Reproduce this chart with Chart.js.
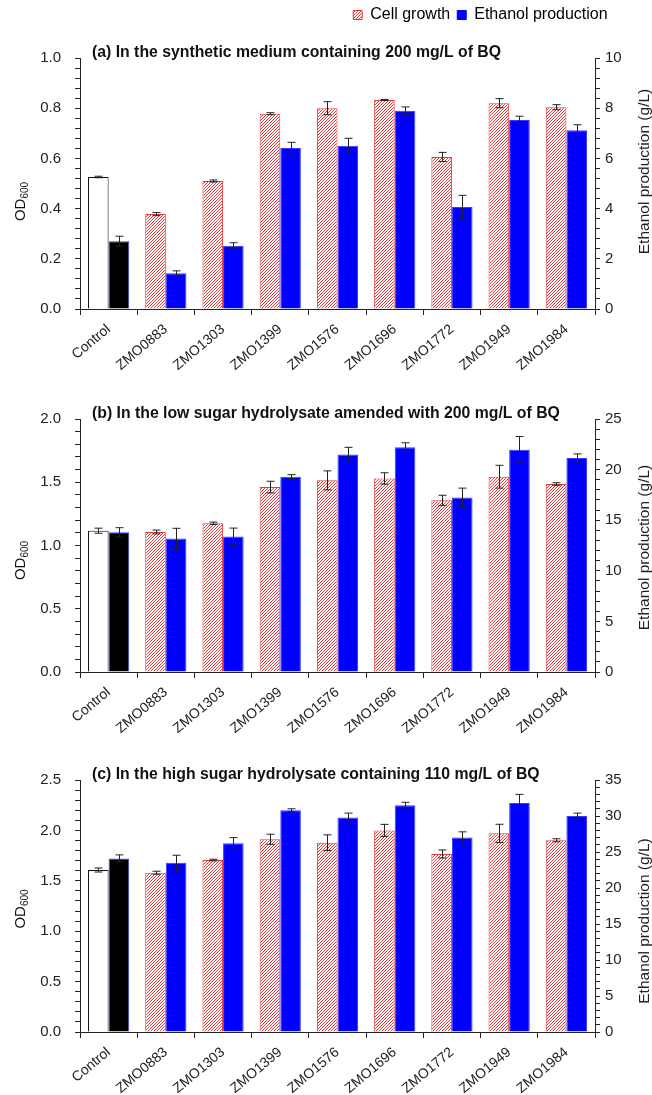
<!DOCTYPE html>
<html>
<head>
<meta charset="utf-8">
<script src="https://cdn.jsdelivr.net/npm/chart.js@4.4.0/dist/chart.umd.min.js"></script>
<style>
  body { margin: 0; background: #fff; }
  #wrap { position: relative; width: 652px; height: 1095px; }
  .panel { position: absolute; left: 0; width: 652px; }
</style>
</head>
<body>
<div id="wrap">
  <div class="panel" style="top:0;height:380px"><canvas id="chartA"></canvas></div>
  <div class="panel" style="top:360px;height:380px"><canvas id="chartB"></canvas></div>
  <div class="panel" style="top:720px;height:375px"><canvas id="chartC"></canvas></div>
</div>
<script>
const categories = ['Control', 'ZMO0883', 'ZMO1303', 'ZMO1399', 'ZMO1576', 'ZMO1696', 'ZMO1772', 'ZMO1949', 'ZMO1984']

// (a) synthetic medium, 200 mg/L BQ
const growthA = [0.526, 0.378, 0.510, 0.778, 0.800, 0.833, 0.606, 0.820, 0.804]
const growthErrA = [0.003, 0.006, 0.004, 0.004, 0.026, 0.002, 0.018, 0.018, 0.010]
const ethanolA = [2.70, 1.42, 2.52, 6.41, 6.50, 7.90, 4.06, 7.53, 7.12]
const ethanolErrA = [0.20, 0.10, 0.12, 0.23, 0.30, 0.15, 0.47, 0.15, 0.22]

// (b) low sugar hydrolysate, 200 mg/L BQ
const growthB = [1.117, 1.107, 1.175, 1.462, 1.515, 1.530, 1.357, 1.544, 1.486]
const growthErrB = [0.02, 0.015, 0.01, 0.046, 0.075, 0.045, 0.04, 0.09, 0.01]
const ethanolB = [13.8, 13.2, 13.4, 19.3, 21.5, 22.2, 17.25, 21.97, 21.15]
const ethanolErrB = [0.46, 1.0, 0.82, 0.2, 0.7, 0.45, 0.92, 1.3, 0.4]

// (c) high sugar hydrolysate, 110 mg/L BQ
const growthC = [1.607, 1.580, 1.706, 1.912, 1.878, 2.000, 1.766, 1.971, 1.902]
const growthErrC = [0.02, 0.015, 0.008, 0.05, 0.078, 0.06, 0.04, 0.09, 0.015]
const ethanolC = [24.1, 23.5, 26.2, 30.8, 29.8, 31.5, 27.0, 31.8, 30.0]
const ethanolErrC = [0.5, 1.05, 0.8, 0.2, 0.6, 0.4, 0.8, 1.2, 0.4]

const FONT = '"Liberation Sans", Arial, sans-serif'
Chart.defaults.font.family = FONT
Chart.defaults.color = '#222'

const RED = '#e8393a'
const BLUE = '#0000ff'

// red diagonal hatch on white (crisp pixels, no antialiasing)
function makeHatch(color) {
  const n = 3
  const c = document.createElement('canvas')
  c.width = n
  c.height = n
  const g = c.getContext('2d')
  g.fillStyle = '#fff'
  g.fillRect(0, 0, n, n)
  g.fillStyle = color
  for (let i = 0; i < n; i++) g.fillRect(i, n - 1 - i, 1, 1)
  return g.createPattern(c, 'repeat')
}
const hatch = makeHatch(RED)

// error bars, drawn from each dataset's "errors"
const errorBarPlugin = {
  id: 'errorBars',
  afterDatasetsDraw(chart) {
    const ctx = chart.ctx
    ctx.save()
    ctx.strokeStyle = '#222'
    ctx.lineWidth = 1
    chart.data.datasets.forEach((ds, i) => {
      const meta = chart.getDatasetMeta(i)
      const scale = chart.scales[meta.yAxisID]
      meta.data.forEach((bar, j) => {
        const v = ds.data[j]
        const e = ds.errors[j]
        const top = scale.getPixelForValue(v + e)
        const bot = scale.getPixelForValue(v - e)
        const x = Math.round(bar.x) + 0.5
        ctx.beginPath()
        ctx.moveTo(x, top); ctx.lineTo(x, bot)
        ctx.moveTo(x - 4, top); ctx.lineTo(x + 4, top)
        ctx.moveTo(x - 4, bot); ctx.lineTo(x + 4, bot)
        ctx.stroke()
      })
    })
    ctx.restore()
  },
}

// panel title + axis titles (OD with subscript 600)
const panelTextPlugin = {
  id: 'panelText',
  afterDraw(chart, args, opts) {
    const { ctx, chartArea } = chart
    const mid = (chartArea.top + chartArea.bottom) / 2
    ctx.save()
    ctx.fillStyle = '#111'
    ctx.textBaseline = 'alphabetic'
    ctx.font = 'bold 15.8px ' + FONT
    ctx.fillText(opts.title, chartArea.left + 12, chartArea.top - 1)

    ctx.save()
    ctx.translate(25, mid + opts.leftShift)
    ctx.rotate(-Math.PI / 2)
    ctx.font = '15px ' + FONT
    const w1 = ctx.measureText('OD').width
    ctx.font = '10px ' + FONT
    const w2 = ctx.measureText('600').width
    const x0 = -(w1 + w2) / 2
    ctx.font = '15px ' + FONT
    ctx.fillText('OD', x0, 0)
    ctx.font = '10px ' + FONT
    ctx.fillText('600', x0 + w1, 3)
    ctx.restore()

    ctx.save()
    ctx.translate(649, mid + opts.rightShift)
    ctx.rotate(-Math.PI / 2)
    ctx.textAlign = 'center'
    ctx.font = '15.5px ' + FONT
    ctx.fillStyle = '#222'
    ctx.fillText('Ethanol production (g/L)', 0, 0)
    ctx.restore()
    ctx.restore()
  },
}

function yAxis(position, max, minor, major, decimals, pad, width) {
  return {
    position,
    min: 0,
    max,
    grid: { drawOnChartArea: false, tickLength: 5, color: '#222' },
    border: { color: '#222' },
    ticks: {
      stepSize: minor,
      autoSkip: false,
      padding: pad,
      color: '#222',
      font: { size: 15 },
      callback: (v) =>
        Math.abs(v / major - Math.round(v / major)) < 1e-6 ? v.toFixed(decimals) : '',
    },
    afterFit: (scale) => { scale.width = width },
  }
}

function createPanel(id, p) {
  const ctx = document.getElementById(id).getContext('2d')
  return new Chart(ctx, {
    type: 'bar',
    data: {
      labels: categories,
      datasets: [
        {
          label: 'Cell growth',
          data: p.growth,
          errors: p.growthErr,
          yAxisID: 'y',
          backgroundColor: categories.map((c, i) => (i === 0 ? '#ffffff' : hatch)),
          borderColor: categories.map((c, i) => (i === 0 ? '#111' : RED)),
          borderWidth: 1,
          categoryPercentage: 0.72,
          barPercentage: 1.0,
        },
        {
          label: 'Ethanol production',
          data: p.ethanol,
          errors: p.ethanolErr,
          yAxisID: 'y1',
          backgroundColor: categories.map((c, i) => (i === 0 ? '#000000' : BLUE)),
          borderColor: '#3a3aff',
          borderWidth: 1,
          categoryPercentage: 0.72,
          barPercentage: 1.0,
        },
      ],
    },
    options: {
      responsive: true,
      maintainAspectRatio: false,
      animation: false,
      layout: { padding: { top: p.padTop, right: 0, left: 0, bottom: 0 } },
      scales: {
        x: {
          grid: { offset: true, drawOnChartArea: false, tickLength: 6, color: '#222' },
          border: { color: '#222' },
          ticks: {
            minRotation: 40,
            maxRotation: 40,
            padding: 6,
            color: '#222',
            font: { size: 14 },
          },
          afterFit: (scale) => { scale.height = p.xHeight },
        },
        y: yAxis('left', p.leftMax, p.leftMinor, p.leftMajor, 1, 14, 80),
        y1: yAxis('right', p.rightMax, p.rightMinor, p.rightMajor, 0, 5, 57),
      },
      plugins: {
        legend: p.legend
          ? {
              display: true,
              position: 'top',
              align: 'end',
              labels: {
                boxWidth: 9,
                boxHeight: 9,
                padding: 7,
                color: '#222',
                font: { size: 16 },
                // last entry is blank, it only keeps the legend off the right edge
                generateLabels: () => [
                  { text: 'Cell growth', fillStyle: hatch, strokeStyle: RED, lineWidth: 1, datasetIndex: 0 },
                  { text: 'Ethanol production', fillStyle: BLUE, strokeStyle: BLUE, lineWidth: 1, datasetIndex: 1 },
                  { text: '   ', fillStyle: 'rgba(0,0,0,0)', strokeStyle: 'rgba(0,0,0,0)', lineWidth: 0 },
                ],
              },
            }
          : { display: false },
        // empty title only used as a spacer under the legend
        title: p.legend
          ? { display: true, text: '', weight: 500, padding: 0, font: { size: 25, lineHeight: 1 } }
          : { display: false },
        tooltip: { enabled: false },
        panelText: { title: p.title, leftShift: p.leftShift, rightShift: p.rightShift },
      },
    },
    plugins: [errorBarPlugin, panelTextPlugin],
  })
}

createPanel('chartA', {
  title: '(a) In the synthetic medium containing 200 mg/L of BQ',
  growth: growthA, growthErr: growthErrA, ethanol: ethanolA, ethanolErr: ethanolErrA,
  leftMax: 1.0, leftMinor: 0.04, leftMajor: 0.2,
  rightMax: 10, rightMinor: 0.4, rightMajor: 2,
  padTop: 0, xHeight: 71, legend: true,
  leftShift: 18, rightShift: -12,
})

createPanel('chartB', {
  title: '(b) In the low sugar hydrolysate amended with 200 mg/L of BQ',
  growth: growthB, growthErr: growthErrB, ethanol: ethanolB, ethanolErr: ethanolErrB,
  leftMax: 2.0, leftMinor: 0.1, leftMajor: 0.5,
  rightMax: 25, rightMinor: 1, rightMajor: 5,
  padTop: 59, xHeight: 68, legend: false,
  leftShift: 15, rightShift: 2,
})

createPanel('chartC', {
  title: '(c) In the high sugar hydrolysate containing 110 mg/L of BQ',
  growth: growthC, growthErr: growthErrC, ethanol: ethanolC, ethanolErr: ethanolErrC,
  leftMax: 2.5, leftMinor: 0.1, leftMajor: 0.5,
  rightMax: 35, rightMinor: 1, rightMajor: 5,
  padTop: 60, xHeight: 63, legend: false,
  leftShift: 3, rightShift: 15,
})
</script>
</body>
</html>
